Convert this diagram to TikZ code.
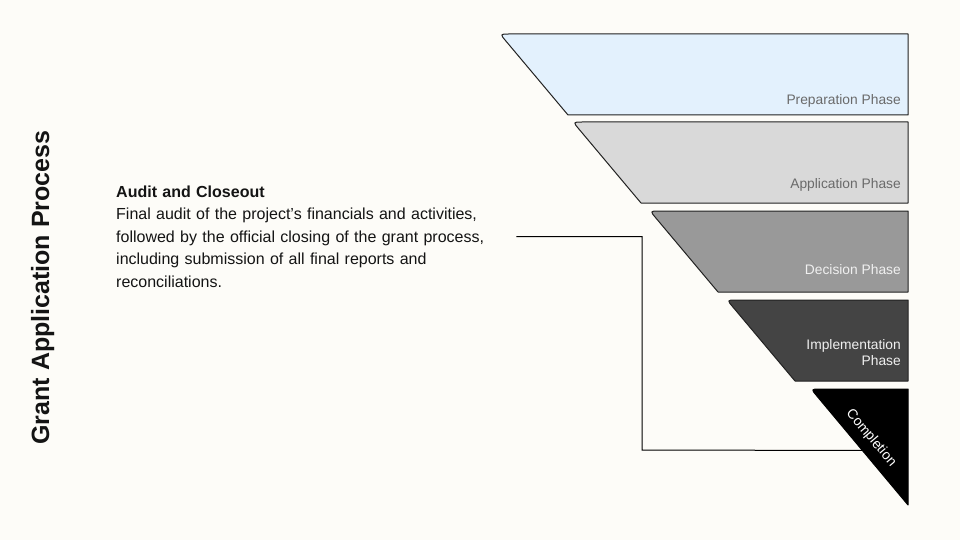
\documentclass[tikz,border=0pt]{standalone}
\usepackage{fontspec}
\setmainfont{Liberation Sans}
\usepackage{xcolor}
\usetikzlibrary{calc}

\definecolor{paper}{HTML}{FDFCF8}
\definecolor{ink}{HTML}{141414}
\definecolor{edge}{HTML}{222222}
\definecolor{prepfill}{HTML}{E3F1FD}
\definecolor{appfill}{HTML}{D9D9D9}
\definecolor{decfill}{HTML}{999999}
\definecolor{implfill}{HTML}{444444}
\definecolor{labgray}{HTML}{6A6A6A}
\definecolor{lablight}{HTML}{F0F0F0}

\begin{document}
\begin{tikzpicture}[
      x=1pt,y=-1pt,
      phase/.style={draw=edge,line width=1pt,line join=round},
      tag/.style={font=\fontsize{13.8}{16}\selectfont,inner sep=0pt,align=right},
      link/.style={draw=black,line width=1pt}
    ]
      \fill[paper] (0,0) rectangle (960,540);

      \coordinate (prepTL) at (500,34);
      \coordinate (prepBL) at (568,115);
      \coordinate (appTL) at (573,122);
      \coordinate (appBL) at (641,203);
      \coordinate (decTL) at (650,211);
      \coordinate (decBL) at (718,292);
      \coordinate (implTL) at (727,300);
      \coordinate (implBL) at (795,381);
      \coordinate (compTL) at (811,389);
      \coordinate (compB) at (908,505);

      \draw[phase,fill=prepfill] (prepBL) -- ($(prepTL)!9pt!(prepBL)$) .. controls (prepTL) .. ($(prepTL)+(9,0)$) -- (908,34) -- (908,115) -- cycle;
      \draw[phase,fill=appfill] (appBL) -- ($(appTL)!9pt!(appBL)$) .. controls (appTL) .. ($(appTL)+(9,0)$) -- (908,122) -- (908,203) -- cycle;
      \draw[phase,fill=decfill] (decBL) -- ($(decTL)!9pt!(decBL)$) .. controls (decTL) .. ($(decTL)+(9,0)$) -- (908,211) -- (908,292) -- cycle;
      \draw[phase,fill=implfill] (implBL) -- ($(implTL)!9pt!(implBL)$) .. controls (implTL) .. ($(implTL)+(9,0)$) -- (908,300) -- (908,381) -- cycle;
      \draw[phase,draw=black,fill=black] (compB) -- ($(compTL)!9pt!(compB)$) .. controls (compTL) .. ($(compTL)+(9,0)$) -- (908,389) -- cycle;

      \node[tag,anchor=base east,text=labgray] (prepLab) at (901,105) {Preparation Phase};
      \node[tag,anchor=base east,text=labgray] (appLab) at (901,188) {Application Phase};
      \node[tag,anchor=base east,text=lablight] (decLab) at (901,274) {Decision Phase};
      \node[tag,anchor=east,text=lablight] (implLab) at (901,353) {Implementation\\Phase};
      \node[tag,text=white,rotate=-50] (compLab) at (871,438) {Completion};

      \node[anchor=north west,inner xsep=5pt,inner ysep=0pt,text width=395pt,align=left,
            font=\fontsize{16}{22.5}\selectfont,text=ink] (desc) at (111,185.5)
            {\textbf{Audit and Closeout}\\
             Final audit of the project's financials and activities,\\
             followed by the official closing of the grant process,\\
             including submission of all final reports and\\
             reconciliations.};

      \node[rotate=90,anchor=base,font=\bfseries\fontsize{25}{30}\selectfont,text=ink] (title) at (49,287.5) {Grant Application Process};

      \coordinate (bend) at (642,450);
      \coordinate (cend) at ($(compTL)!0.53!(compB)$);
      \draw[link] (desc.east) -| (bend) -- (cend);
    \end{tikzpicture}
\end{document}
